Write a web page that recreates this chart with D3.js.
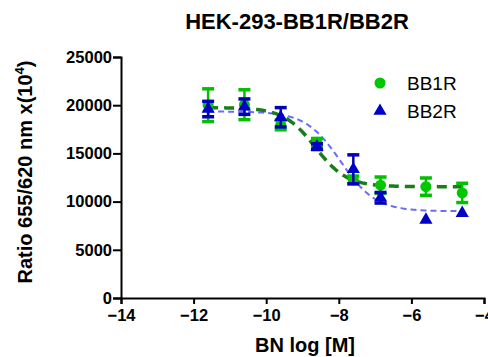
<!DOCTYPE html>
<html>
<head>
<meta charset="utf-8">
<script src="https://cdn.jsdelivr.net/npm/d3@7"></script>
<style>
  body { margin: 0; background: #fff; }
  text { font-family: "Liberation Sans", Arial, sans-serif; }
</style>
</head>
<body>
<svg id="chart" width="488" height="357"></svg>
<script>
// doses (log M)
const doses = [-11.6, -10.6, -9.6, -8.6, -7.6, -6.85, -5.6, -4.6];

// BB1R means / sem
const bb1r = [20000, 20050, 17950, 16150, 12250, 11700, 11550, 10900];
const bb1rErr = [1700, 1550, 500, 400, 400, 850, 900, 1000];

// BB2R means / sem
const bb2r = [19600, 19850, 18750, 15700, 13350, 10400, 8100, 8800];
const bb2rErr = [800, 800, 1000, 300, 1500, 550, 0, 0];

// fitted curves (top, bottom, logEC50, hill)
const fit1 = [19750, 11550, -8.65, 1.0];
const fit2 = [19350, 9000, -7.95, 0.9];

const xTicks = [-14, -12, -10, -8, -6, -4];
const yTicks = [0, 5000, 10000, 15000, 20000, 25000];

const svg = d3.select("#chart");
const x = d3.scaleLinear().domain([-14, -4]).range([121, 484]);
const y = d3.scaleLinear().domain([0, 25000]).range([298, 57]);

function sigmoid(p, v) {
  return p[1] + (p[0] - p[1]) / (1 + Math.pow(10, (v - p[2]) * p[3]));
}

// axes
const xAxis = svg.append("g")
  .attr("transform", "translate(0,298)")
  .call(d3.axisBottom(x).tickValues(xTicks).tickSize(6).tickPadding(5).tickFormat(d3.format("d")));
const yAxis = svg.append("g")
  .attr("transform", "translate(121,0)")
  .call(d3.axisLeft(y).tickValues(yTicks).tickSize(8).tickPadding(1).tickFormat(d3.format("d")));
[xAxis, yAxis].forEach(function(a){
  a.select(".domain").attr("stroke", "#000").attr("stroke-width", 2);
  a.selectAll(".tick line").attr("stroke", "#000").attr("stroke-width", 2);
  a.selectAll(".tick text").attr("fill", "#000")
    .style("font-size", "16.5px").style("font-weight", "bold");
});

// curves
const xs = d3.range(-11.6, -4.59, 0.05);
const line = d3.line().x(d => x(d[0])).y(d => y(d[1]));
svg.append("path")
  .attr("d", line(xs.map(v => [v, sigmoid(fit2, v)])))
  .attr("fill", "none").attr("stroke", "#5c5cf5").attr("stroke-width", 2)
  .attr("stroke-dasharray", "6,4").attr("opacity", 0.9);
svg.append("path")
  .attr("d", line(xs.map(v => [v, sigmoid(fit1, v)])))
  .attr("fill", "none").attr("stroke", "#1a7d1a").attr("stroke-width", 3.5)
  .attr("stroke-dasharray", "10,6");

// error bars
function errBars(vals, errs, color) {
  const g = svg.append("g").attr("stroke", color).attr("stroke-width", 2.5);
  vals.forEach(function(v, i){
    if (!errs[i]) return;
    const cx = x(doses[i]);
    g.append("line").attr("x1", cx).attr("x2", cx)
      .attr("y1", y(v - errs[i])).attr("y2", y(v + errs[i]));
    [v - errs[i], v + errs[i]].forEach(function(e){
      g.append("line").attr("x1", cx - 6).attr("x2", cx + 6)
        .attr("y1", y(e)).attr("y2", y(e)).attr("stroke-width", 3.5);
    });
  });
}
errBars(bb1r, bb1rErr, "#00c000");

svg.append("g").selectAll("circle").data(bb1r).enter().append("circle")
  .attr("cx", (d, i) => x(doses[i])).attr("cy", d => y(d))
  .attr("r", 5.5).attr("fill", "#00c800");

errBars(bb2r, bb2rErr, "#0000b8");

const tri = d3.symbol().type(d3.symbolTriangle).size(75);
svg.append("g").selectAll("path").data(bb2r).enter().append("path")
  .attr("d", tri)
  .attr("transform", (d, i) => "translate(" + x(doses[i]) + "," + y(d) + ")")
  .attr("fill", "#0000c8");

// legend
svg.append("circle").attr("cx", 380).attr("cy", 83).attr("r", 5.5).attr("fill", "#00c800");
svg.append("path").attr("d", tri).attr("transform", "translate(380,111)").attr("fill", "#0000c8");
svg.append("text").attr("x", 407).attr("y", 90).style("font-size", "19px").text("BB1R");
svg.append("text").attr("x", 407).attr("y", 118).style("font-size", "19px").text("BB2R");

// titles
svg.append("text").attr("x", 297).attr("y", 29).attr("text-anchor", "middle")
  .style("font-size", "22px").style("font-weight", "bold").text("HEK-293-BB1R/BB2R");
svg.append("text").attr("x", 305).attr("y", 352).attr("text-anchor", "middle")
  .style("font-size", "20px").style("font-weight", "bold").text("BN log [M]");

const yl = svg.append("text").attr("transform", "translate(32,172) rotate(-90)")
  .attr("text-anchor", "middle").style("font-size", "20px").style("font-weight", "bold");
yl.append("tspan").text("Ratio 655/620 nm x(10");
yl.append("tspan").attr("dy", -8).style("font-size", "13px").text("4");
yl.append("tspan").attr("dy", 8).text(")");
</script>
</body>
</html>
